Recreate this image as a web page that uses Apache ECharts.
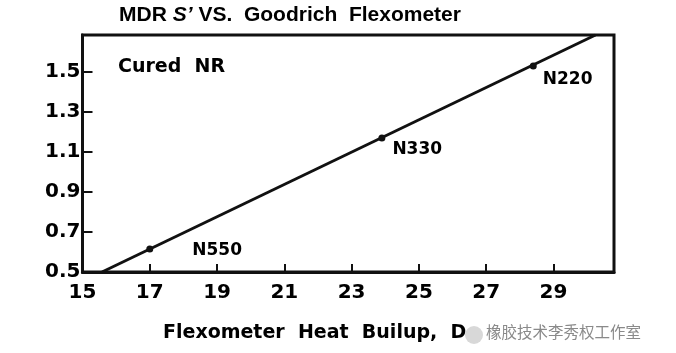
<!DOCTYPE html>
<html>
<head>
<meta charset="utf-8">
<script src="https://cdn.jsdelivr.net/npm/echarts@6/dist/echarts.min.js"></script>
<style>
  html, body { margin: 0; padding: 0; background: #fff; }
  #main { width: 676px; height: 353px; }
</style>
</head>
<body>
<div id="main"></div>
<script>
// carbon black grades
var grades = ['N550', 'N330', 'N220'];
var heatBuildup = [17, 23.9, 28.4];
var sPrime = [0.615, 1.17, 1.53];
// the fitted line, from where it leaves the bottom to where it hits the top
var fitX = [15.58, 30.25];
var fitY = [0.5, 1.685];
// tick labels
var xTicks = [15, 17, 19, 21, 23, 25, 27, 29];
var yTicks = [0.5, 0.7, 0.9, 1.1, 1.3, 1.5];
// label offsets next to each point
var labelOffsets = [[34, 2], [2, 12], [1, 14]];

var myChart = echarts.init(document.getElementById('main'));

var pointLabel = {
    show: true,
    position: 'right',
    formatter: '{b}',
    fontFamily: 'DejaVu Sans',
    fontWeight: 'bold',
    fontSize: 17,
    color: '#000'
};

var fitData = [];
for (var i = 0; i < fitX.length; i++) {
    fitData.push([fitX[i], fitY[i]]);
}
var pointData = [];
for (var i = 0; i < grades.length; i++) {
    pointData.push({
        name: grades[i],
        value: [heatBuildup[i], sPrime[i]],
        label: Object.assign({}, pointLabel, { offset: labelOffsets[i] })
    });
}

var lab = { fontFamily: 'DejaVu Sans', fontWeight: 'bold', color: '#000' };

option = {
    animation: false,
    title: {
        text: 'MDR {i|S’} VS.  Goodrich  Flexometer',
        left: 285,
        top: 0,
        textAlign: 'center',
        textStyle: {
            fontFamily: 'Liberation Sans',
            fontWeight: 'bold',
            fontSize: 21,
            color: '#000',
            rich: {
                i: { fontFamily: 'Liberation Sans', fontWeight: 'bold', fontStyle: 'italic', fontSize: 21, color: '#000' }
            }
        }
    },
    grid: {
        left: 82.5,
        right: 62,
        top: 35,
        bottom: 81,
        show: true,
        borderColor: '#111',
        borderWidth: 3,
        backgroundColor: 'transparent'
    },
    xAxis: {
        type: 'value',
        min: 15,
        max: 30.8,
        splitLine: { show: false },
        axisLine: { lineStyle: { color: '#111', width: 3 } },
        axisTick: { inside: true, length: 8, customValues: xTicks, lineStyle: { color: '#111', width: 2 } },
        axisLabel: Object.assign({ customValues: xTicks, fontSize: 20, margin: 11 }, lab)
    },
    yAxis: {
        type: 'value',
        min: 0.5,
        max: 1.685,
        splitLine: { show: false },
        axisLine: { lineStyle: { color: '#111', width: 3 } },
        axisTick: { inside: true, length: 10, customValues: yTicks, lineStyle: { color: '#111', width: 2 } },
        axisLabel: Object.assign({
            customValues: yTicks, fontSize: 20, margin: 2,
            formatter: function (v) { return v.toFixed(1); }
        }, lab)
    },
    graphic: [
        { type: 'text', left: 118, top: 58, style: { text: 'Cured  NR', font: 'bold 19px "DejaVu Sans"', fill: '#000' } },
        { type: 'text', left: 163, top: 324, style: { text: 'Flexometer  Heat  Builup,  D', font: 'bold 19px "DejaVu Sans"', fill: '#000' } },
        { type: 'circle', shape: { cx: 474, cy: 335, r: 9 }, style: { fill: '#d8d8d8' } },
        { type: 'text', left: 486, top: 324, style: { text: '橡胶技术李秀权工作室', font: '15.5px "Noto Sans CJK SC"', fill: '#8a8a8a' } }
    ],
    series: [
        {
            type: 'line',
            data: fitData,
            symbol: 'none',
            lineStyle: { color: '#111', width: 3 },
            z: 3
        },
        {
            type: 'scatter',
            data: pointData,
            symbolSize: 7,
            itemStyle: { color: '#111', opacity: 1 },
            label: pointLabel,
            z: 4
        }
    ]
};

myChart.setOption(option);
</script>
</body>
</html>
